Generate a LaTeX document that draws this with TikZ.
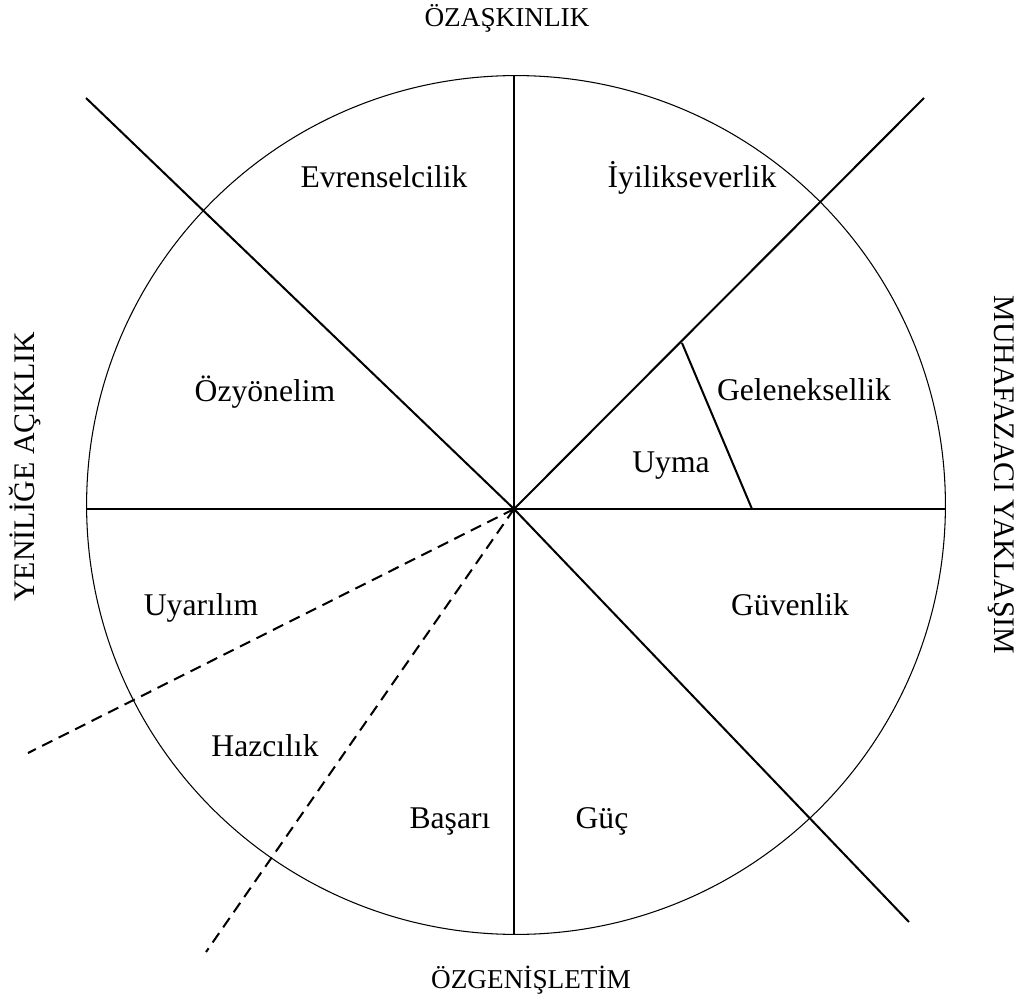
\documentclass[tikz,border=0pt]{standalone}
\usepackage{fontspec}
\setmainfont{Liberation Serif}
\begin{document}
\begin{tikzpicture}[x=0.02cm,y=-0.02cm,
  value/.style={font=\fontsize{18}{20}\selectfont,anchor=base},
  pole/.style={font=\fontsize{15.5}{17}\selectfont,anchor=base},
  sidepole/.style={font=\fontsize{17}{19}\selectfont},
  divider/.style={line width=1.15pt},
  subline/.style={line width=1.15pt,dash pattern=on 6.5pt off 4pt}]
\useasboundingbox (0,0) rectangle (1024,1003);
\coordinate (O) at (514,509);
\draw[line width=0.6pt] (516,505) circle[radius=8.59cm];
\draw[divider] (514,76) -- (514,934);
\draw[divider] (86,509) -- (946,509);
\draw[divider] (86,98) -- (O) -- (909,922);
\draw[divider] (O) -- (924,98);
\draw[divider] (682,343) -- (752,509);
\draw[subline] (O) -- (28,753);
\draw[subline] (O) -- (206,952);
\node[pole] (ozas) at (507,27) {ÖZAŞKINLIK};
\node[pole] (ozgen) at (531,988) {ÖZGENİŞLETİM};
\node[sidepole,rotate=90] (yeni) at (25,467) {YENİLİĞE AÇIKLIK};
\node[sidepole,rotate=-90] (muha) at (1001,475) {MUHAFAZACI YAKLAŞIM};
\node[value] (evr) at (384,188) {Evrenselcilik};
\node[value] (iyi) at (692,188) {İyilikseverlik};
\node[value] (ozy) at (265,401) {Özyönelim};
\node[value] (gel) at (804,400) {Geleneksellik};
\node[value] (uyma) at (671,472) {Uyma};
\node[value] (uyar) at (201,615) {Uyarılım};
\node[value] (guv) at (790,615) {Güvenlik};
\node[value] (haz) at (265,756) {Hazcılık};
\node[value] (bas) at (450,828) {Başarı};
\node[value] (guc) at (602,828) {Güç};
\end{tikzpicture}
\end{document}
